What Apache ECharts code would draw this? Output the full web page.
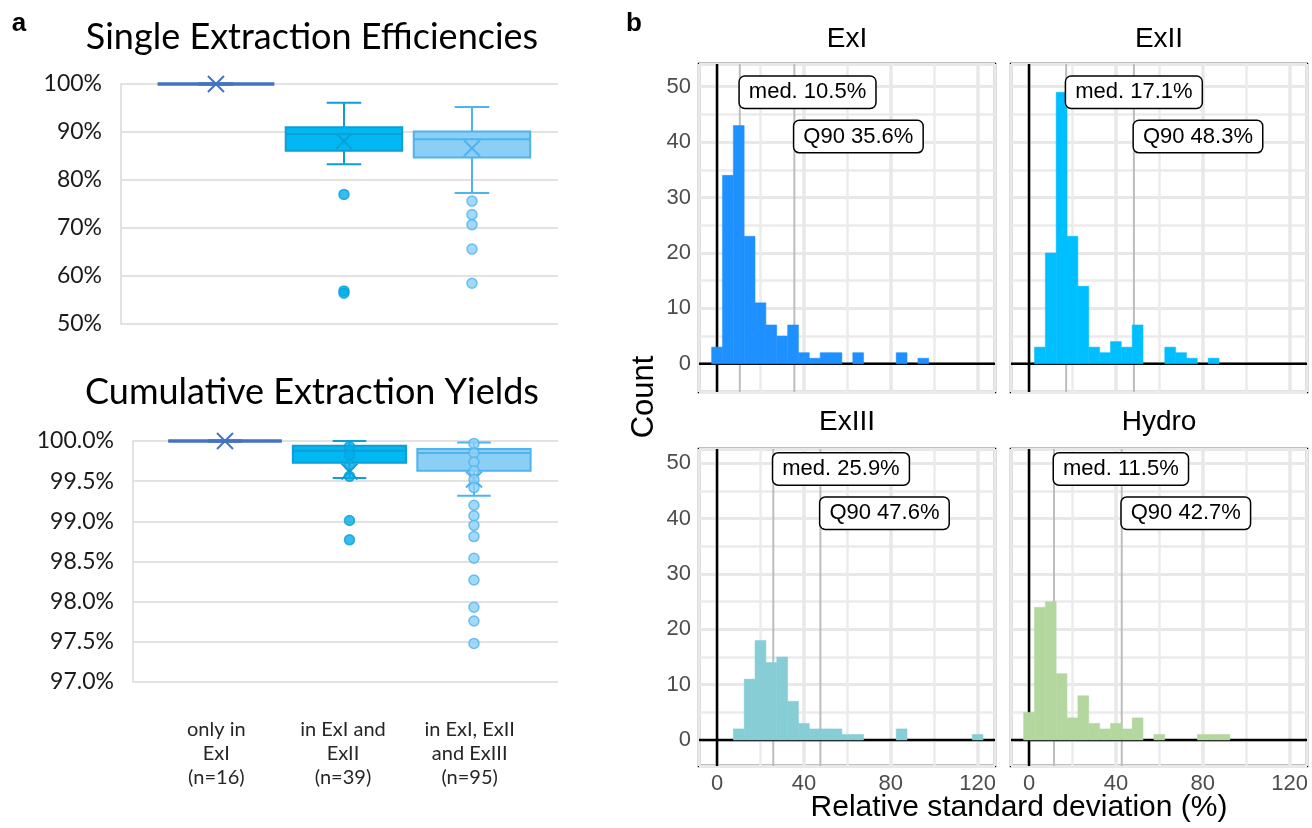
<!DOCTYPE html>
<html>
<head>
<meta charset="utf-8">
<title>Extraction efficiencies and relative standard deviations</title>
<script src="https://cdn.jsdelivr.net/npm/echarts@6.0.0/dist/echarts.min.js"></script>
<style>
html, body { margin: 0; padding: 0; background: #fff; }
#chart { width: 1312px; height: 828px; }
</style>
</head>
<body>
<div id="chart"></div>
<script>
// ---- panel a: box plots ----
const groupLabels = ['only in\nExI\n(n=16)', 'in ExI and\nExII\n(n=39)', 'in ExI, ExII\nand ExIII\n(n=95)'];
// [lower whisker, Q1, median, Q3, upper whisker] in %
const singleBoxes = [
	[100, 100, 100, 100, 100],
	[83.3, 86.1, 89.6, 91.0, 96.1],
	[77.3, 84.7, 88.5, 90.1, 95.2]
];
const singleMeans = [100, 88.1, 86.6];
const singleOutliers = [[], [77.0, 56.9, 56.4], [75.6, 72.8, 70.7, 65.6, 58.5]];

const cumulativeBoxes = [
	[100, 100, 100, 100, 100],
	[99.54, 99.73, 99.88, 99.94, 100.0],
	[99.32, 99.63, 99.85, 99.90, 99.98]
];
const cumulativeMeans = [100, 99.62, 99.52];
const cumulativePoints = [
	[],
	[99.93, 99.83, 99.70, 99.56, 99.01, 98.77],
	[99.97, 99.85, 99.74, 99.63, 99.52, 99.42, 99.20, 99.07, 98.95, 98.81, 98.54, 98.27, 97.93, 97.76, 97.48]
];

// ---- panel b: histograms, bins of width 5 centred on binCenters ----
const binWidth = 5;
const binCenters = [0, 5, 10, 15, 20, 25, 30, 35, 40, 45, 50, 55, 60, 65, 70, 75, 80, 85, 90, 95, 100, 105, 110, 115, 120];
const countsExI   = [3, 34, 43, 23, 11, 7, 5, 7, 2, 1, 2, 2, 0, 2, 0, 0, 0, 2, 0, 1, 0, 0, 0, 0, 0];
const countsExII  = [0, 3, 20, 49, 23, 14, 3, 2, 4, 3, 7, 0, 0, 3, 2, 1, 0, 1, 0, 0, 0, 0, 0, 0, 0];
const countsExIII = [0, 0, 2, 11, 18, 14, 15, 7, 3, 2, 2, 2, 1, 1, 0, 0, 0, 2, 0, 0, 0, 0, 0, 0, 1];
const countsHydro = [5, 24, 25, 12, 4, 8, 3, 2, 3, 2, 4, 0, 1, 0, 0, 0, 1, 1, 1, 0, 0, 0, 0, 0, 0];
const histNames = ['ExI', 'ExII', 'ExIII', 'Hydro'];
const medians = [10.5, 17.1, 25.9, 11.5];
const q90s = [35.6, 48.3, 47.6, 42.7];
const medLabelY = 49;
const q90LabelY = 41;

// ---- styles / layout ----
const fontA = 'Lato, "Open Sans", sans-serif';
const fontB = '"Liberation Sans", Arial, sans-serif';
const boxStyles = [
	{ fill: 'none', stroke: '#4472c4', width: 3 },
	{ fill: '#00b8f2', stroke: '#0b9fd6', width: 2 },
	{ fill: '#8ccff6', stroke: '#4fb3ee', width: 2 }
];
const dotStyles = [
	{ color: '#4472c4', borderColor: '#4472c4', borderWidth: 1.5 },
	{ color: '#00aee8', borderColor: '#0b9fd6', borderWidth: 1.5 },
	{ color: '#8ccff6', borderColor: '#4fb3ee', borderWidth: 1.5 }
];
const histColors = ['#1e90ff', '#00bfff', '#86cdd5', '#b4d69f'];
const histLayout = [
	{ grid: { left: 699, top: 64, width: 296, height: 328 }, y: [-5.1, 54.1], xLab: false, yLab: true, tx: 847, ty: 39 },
	{ grid: { left: 1011, top: 64, width: 296, height: 328 }, y: [-5.1, 54.1], xLab: false, yLab: false, tx: 1159, ty: 39 },
	{ grid: { left: 699, top: 449, width: 296, height: 317 }, y: [-4.7, 52.6], xLab: true, yLab: true, tx: 847, ty: 422 },
	{ grid: { left: 1011, top: 449, width: 296, height: 317 }, y: [-4.7, 52.6], xLab: true, yLab: false, tx: 1159, ty: 422 }
];
const histCounts = [countsExI, countsExII, countsExIII, countsHydro];

const boxHalf = 0.455;
const capHalf = 0.135;

function renderBox(params, api) {
	const st = boxStyles[params.dataIndex];
	const x = api.value(0);
	const y = v => api.coord([x, v])[1];
	const xl = api.coord([x - boxHalf, 100])[0];
	const xr = api.coord([x + boxHalf, 100])[0];
	const xc = api.coord([x, 100])[0];
	const cl = api.coord([x - capHalf, 100])[0];
	const cr = api.coord([x + capHalf, 100])[0];
	const lo = y(api.value(1)), q1 = y(api.value(2)), md = y(api.value(3));
	const q3 = y(api.value(4)), hi = y(api.value(5)), mn = y(api.value(6));
	const line = (x1, y1, x2, y2, w) => ({
		type: 'line',
		shape: { x1: x1, y1: y1, x2: x2, y2: y2 },
		style: { stroke: st.stroke, lineWidth: w || st.width }
	});
	const m = 8;
	return {
		type: 'group',
		children: [
			line(xc, q3, xc, hi), line(cl, hi, cr, hi),
			line(xc, q1, xc, lo), line(cl, lo, cr, lo),
			{
				type: 'rect',
				shape: { x: xl, y: q3, width: xr - xl, height: q1 - q3 },
				style: { fill: st.fill, stroke: st.stroke, lineWidth: st.width }
			},
			line(xl, md, xr, md),
			line(xc - m, mn - m, xc + m, mn + m, 2), line(xc - m, mn + m, xc + m, mn - m, 2)
		]
	};
}

function boxSeries(boxes, means, idx) {
	return {
		type: 'custom',
		xAxisIndex: idx,
		yAxisIndex: idx,
		renderItem: renderBox,
		encode: { x: 0, y: [1, 2, 3, 4, 5] },
		data: boxes.map((b, g) => [g + 1].concat(b, [means[g]])),
		z: 3
	};
}

function dotSeries(points, idx) {
	const data = [];
	points.forEach((arr, g) => arr.forEach(v => data.push({ value: [g + 1, v], itemStyle: dotStyles[g] })));
	return {
		type: 'scatter',
		xAxisIndex: idx,
		yAxisIndex: idx,
		symbolSize: 10,
		data: data,
		z: 4
	};
}

function makeRefRenderer() {
	return function (params, api) {
		const cs = params.coordSys;
		const v = api.value(0);
		const kind = api.value(1);
		if (kind === 2) {
			const yy = api.coord([0, v])[1];
			return { type: 'line', shape: { x1: cs.x, y1: yy, x2: cs.x + cs.width, y2: yy }, style: { stroke: '#000', lineWidth: 2.5 } };
		}
		const xx = api.coord([v, 0])[0];
		return {
			type: 'line',
			shape: { x1: xx, y1: cs.y, x2: xx, y2: cs.y + cs.height },
			style: { stroke: kind === 0 ? '#000' : '#bdbdbd', lineWidth: kind === 0 ? 2.5 : 2 }
		};
	};
}

function makeBinRenderer(color) {
	return function (params, api) {
		const c = api.value(0);
		const n = api.value(1);
		if (!n) return null;
		const a = api.coord([c - binWidth / 2, n]);
		const b = api.coord([c + binWidth / 2, 0]);
		return {
			type: 'rect',
			shape: { x: a[0], y: a[1], width: b[0] - a[0], height: b[1] - a[1] },
			style: { fill: color, stroke: color, lineWidth: 0.5 }
		};
	};
}

function makeLabelRenderer(texts) {
	return function (params, api) {
		const p = api.coord([api.value(0), api.value(1)]);
		return {
			type: 'text',
			x: p[0],
			y: p[1],
			style: {
				text: texts[params.dataIndex],
				font: '22px ' + fontB,
				fill: '#000',
				align: 'left',
				verticalAlign: 'middle',
				backgroundColor: '#fff',
				borderColor: '#000',
				borderWidth: 1.5,
				borderRadius: 5,
				padding: [5, 9, 4, 9]
			}
		};
	};
}

const grids = [
	{ left: 121, top: 84, width: 437, height: 240 },
	{ left: 133, top: 441, width: 425, height: 241 },
	{ left: 153, top: 700, width: 380, height: 1 }
];
const xAxes = [
	{ gridIndex: 0, type: 'value', min: 0.258, max: 3.672, show: false },
	{ gridIndex: 1, type: 'value', min: 0.261, max: 3.675, show: false },
	{
		gridIndex: 2, type: 'category', data: groupLabels,
		axisLine: { show: false }, axisTick: { show: false },
		axisLabel: { interval: 0, margin: 17, fontFamily: fontA, fontSize: 20, lineHeight: 24, color: '#262626' }
	}
];
const yAxes = [
	{
		gridIndex: 0, type: 'value', min: 50, max: 100, interval: 10,
		axisLine: { show: true, lineStyle: { color: '#d9d9d9', width: 1.5 } },
		axisTick: { show: false },
		splitLine: { lineStyle: { color: '#d9d9d9', width: 1.5 } },
		axisLabel: { formatter: '{value}%', margin: 19, fontFamily: fontA, fontSize: 23, color: '#1a1a1a' }
	},
	{
		gridIndex: 1, type: 'value', min: 97, max: 100, interval: 0.5,
		axisLine: { show: true, lineStyle: { color: '#d9d9d9', width: 1.5 } },
		axisTick: { show: false },
		splitLine: { lineStyle: { color: '#d9d9d9', width: 1.5 } },
		axisLabel: { formatter: v => v.toFixed(1) + '%', margin: 19, fontFamily: fontA, fontSize: 23, color: '#1a1a1a' }
	},
	{ gridIndex: 2, type: 'value', show: false }
];

const series = [
	boxSeries(singleBoxes, singleMeans, 0),
	dotSeries(singleOutliers, 0),
	boxSeries(cumulativeBoxes, cumulativeMeans, 1),
	dotSeries(cumulativePoints, 1)
];

const graphics = [
	{ type: 'text', x: 19, y: 24, style: { text: 'a', font: 'bold 26px ' + fontB, fill: '#000', align: 'center', verticalAlign: 'middle' } },
	{ type: 'text', x: 634, y: 24, style: { text: 'b', font: 'bold 26px ' + fontB, fill: '#000', align: 'center', verticalAlign: 'middle' } },
	{ type: 'text', x: 312, y: 37, style: { text: 'Single Extraction Efficiencies', font: '36px ' + fontA, fill: '#000', align: 'center', verticalAlign: 'middle' } },
	{ type: 'text', x: 312, y: 392, style: { text: 'Cumulative Extraction Yields', font: '36px ' + fontA, fill: '#000', align: 'center', verticalAlign: 'middle' } },
	{ type: 'text', x: 644, y: 397, rotation: Math.PI / 2, style: { text: 'Count', font: '31px ' + fontB, fill: '#000', align: 'center', verticalAlign: 'middle' } },
	{ type: 'text', x: 1019, y: 808, style: { text: 'Relative standard deviation (%)', font: '30px ' + fontB, fill: '#000', align: 'center', verticalAlign: 'middle' } }
];

const tickFmt = (step, lo, hi) => v => {
	const r = Math.round(v);
	return (Math.abs(v - r) < 1e-6 && r % step === 0 && r >= lo && r <= hi) ? String(r) : '';
};

histLayout.forEach((h, i) => {
	const idx = 3 + i;
	grids.push(Object.assign({ show: true, borderColor: '#000', borderWidth: 2.5, backgroundColor: '#fff' }, h.grid));
	xAxes.push({
		gridIndex: idx, type: 'value', min: -8.3, max: 128, minInterval: 40, maxInterval: 40,
		axisLine: { show: false }, axisTick: { show: false },
		minorTick: { show: false, splitNumber: 2 },
		splitLine: { show: true, lineStyle: { color: '#e8e8e8', width: 3.5 } },
		minorSplitLine: { show: true, lineStyle: { color: '#ebebeb', width: 2.5 } },
		axisLabel: { show: h.xLab, formatter: tickFmt(40, 0, 120), margin: 7, fontFamily: fontB, fontSize: 22, color: '#4d4d4d', showMinLabel: false, showMaxLabel: false }
	});
	yAxes.push({
		gridIndex: idx, type: 'value', min: h.y[0], max: h.y[1], minInterval: 10, maxInterval: 10,
		axisLine: { show: false }, axisTick: { show: false },
		minorTick: { show: false, splitNumber: 2 },
		splitLine: { show: true, lineStyle: { color: '#e8e8e8', width: 3 } },
		minorSplitLine: { show: true, lineStyle: { color: '#ebebeb', width: 2.5 } },
		axisLabel: { show: h.yLab, formatter: tickFmt(10, 0, 50), margin: 8, fontFamily: fontB, fontSize: 22, color: '#4d4d4d', showMinLabel: false, showMaxLabel: false }
	});
	series.push({
		type: 'custom', xAxisIndex: idx, yAxisIndex: idx, z: 2,
		renderItem: makeRefRenderer(),
		data: [[0, 0], [medians[i], 1], [q90s[i], 1], [0, 2]]
	});
	series.push({
		type: 'custom', xAxisIndex: idx, yAxisIndex: idx, z: 3,
		renderItem: makeBinRenderer(histColors[i]),
		data: binCenters.map((c, k) => [c, histCounts[i][k]])
	});
	series.push({
		type: 'custom', xAxisIndex: idx, yAxisIndex: idx, z: 4,
		renderItem: makeLabelRenderer(['med. ' + medians[i].toFixed(1) + '%', 'Q90 ' + q90s[i].toFixed(1) + '%']),
		data: [[medians[i], medLabelY], [q90s[i], q90LabelY]]
	});
	graphics.push({ type: 'text', x: h.tx, y: h.ty, style: { text: histNames[i], font: '28px ' + fontB, fill: '#000', align: 'center', verticalAlign: 'middle' } });
});

const chart = echarts.init(document.getElementById('chart'));
chart.setOption({
	backgroundColor: '#fff',
	animation: false,
	grid: grids,
	xAxis: xAxes,
	yAxis: yAxes,
	series: series,
	graphic: graphics
});
</script>
</body>
</html>
